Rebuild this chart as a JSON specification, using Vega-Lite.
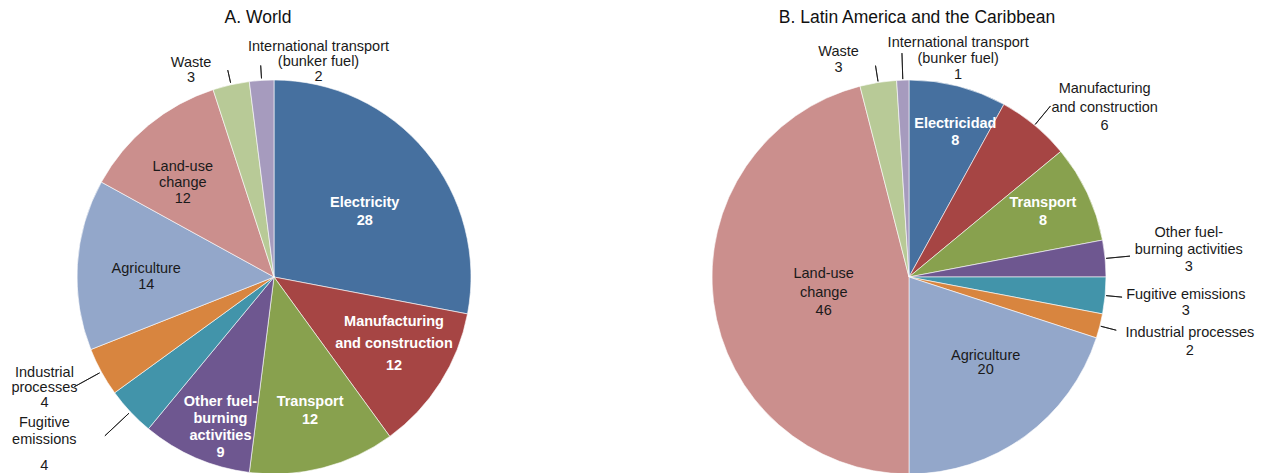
{
  "$schema": "https://vega.github.io/schema/vega-lite/v6.json",
  "padding": 0,
  "spacing": 7,
  "config": {
    "view": {"stroke": null},
    "text": {"font": "Liberation Sans", "fontSize": 14.5, "baseline": "middle", "align": "center", "lineBreak": "\n", "color": "#1a1a1a"},
    "title": {"font": "Liberation Sans", "fontSize": 17.5, "fontWeight": "normal", "color": "#111111", "anchor": "middle", "frame": "group"}
  },
  "datasets": {
    "world": [
      {"idx": 1, "cat": "Electricity", "value": 28, "label": "Electricity\n28"},
      {"idx": 2, "cat": "Manufacturing", "value": 12, "label": "Manufacturing\nand construction\n12"},
      {"idx": 3, "cat": "Transport", "value": 12, "label": "Transport\n12"},
      {"idx": 4, "cat": "Other", "value": 9, "label": "Other fuel-\nburning\nactivities\n9"},
      {"idx": 5, "cat": "Fugitive", "value": 4, "label": "Fugitive\nemissions"},
      {"idx": 6, "cat": "Industrial", "value": 4, "label": "Industrial\nprocesses\n4"},
      {"idx": 7, "cat": "Agriculture", "value": 14, "label": "Agriculture\n14"},
      {"idx": 8, "cat": "LandUse", "value": 12, "label": "Land-use\nchange\n12"},
      {"idx": 9, "cat": "Waste", "value": 3, "label": "Waste\n3"},
      {"idx": 10, "cat": "International", "value": 2, "label": "International transport\n(bunker fuel)\n2"}
    ],
    "lac": [
      {"idx": 1, "cat": "Electricity", "value": 8, "label": "Electricidad\n8"},
      {"idx": 2, "cat": "Manufacturing", "value": 6, "label": "Manufacturing\nand construction\n6"},
      {"idx": 3, "cat": "Transport", "value": 8, "label": "Transport\n8"},
      {"idx": 4, "cat": "Other", "value": 3, "label": "Other fuel-\nburning activities\n3"},
      {"idx": 5, "cat": "Fugitive", "value": 3, "label": "Fugitive emissions\n3"},
      {"idx": 6, "cat": "Industrial", "value": 2, "label": "Industrial processes\n2"},
      {"idx": 7, "cat": "Agriculture", "value": 20, "label": "Agriculture\n20"},
      {"idx": 8, "cat": "LandUse", "value": 46, "label": "Land-use\nchange\n46"},
      {"idx": 9, "cat": "Waste", "value": 3, "label": "Waste\n3"},
      {"idx": 10, "cat": "International", "value": 1, "label": "International transport\n(bunker fuel)\n1"}
    ]
  },
  "hconcat": [
    {
      "title": {"text": "A. World", "dx": -16, "offset": -26},
      "width": 548,
      "height": 554,
      "data": {"name": "world"},
      "encoding": {
        "theta": {"field": "value", "type": "quantitative", "stack": true},
        "order": {"field": "idx", "type": "quantitative"}
      },
      "layer": [
        {"mark": {"type": "arc", "radius": 197, "stroke": "#ffffff", "strokeWidth": 0.6},
         "encoding": {"color": {"field": "cat", "type": "nominal", "legend": null,
           "scale": {"domain": ["Electricity", "Manufacturing", "Transport", "Other", "Fugitive", "Industrial", "Agriculture", "LandUse", "Waste", "International"],
                     "range": ["#46709F", "#A64544", "#88A14E", "#6E5790", "#4294AA", "#D8853F", "#93A7CA", "#CB8F8D", "#B8CA97", "#A69BBE"]}}}},
        {"mark": {"type": "arc", "radius": 232, "radius2": 199, "padAngle": 1, "fillOpacity": 0, "stroke": "#111111", "strokeWidth": 0.8},
         "encoding": {"detail": {"field": "cat"}, "strokeOpacity": {"condition": {"test": "datum.cat === 'Fugitive'", "value": 1}, "value": 0}}},
        {"mark": {"type": "arc", "radius": 228, "radius2": 199, "padAngle": 1, "fillOpacity": 0, "stroke": "#111111", "strokeWidth": 0.8},
         "encoding": {"detail": {"field": "cat"}, "strokeOpacity": {"condition": {"test": "datum.cat === 'Industrial'", "value": 1}, "value": 0}}},
        {"mark": {"type": "arc", "radius": 212, "radius2": 199, "padAngle": 1, "fillOpacity": 0, "stroke": "#111111", "strokeWidth": 0.8},
         "encoding": {"detail": {"field": "cat"}, "strokeOpacity": {"condition": {"test": "datum.cat === 'Waste' || datum.cat === 'International'", "value": 1}, "value": 0}}},
        {"mark": {"type": "text", "clip": true, "radius": 110, "dx": 6, "dy": -4, "lineHeight": 18, "fontWeight": "bold", "color": "#ffffff"},
         "encoding": {"detail": {"field": "cat"}, "text": {"condition": {"test": "datum.cat === 'Electricity'", "field": "label"}, "value": ""}}},
        {"mark": {"type": "text", "clip": true, "radius": 135, "dx": 6, "dy": -27, "lineHeight": 22, "fontWeight": "bold", "color": "#ffffff"},
         "encoding": {"detail": {"field": "cat"}, "text": {"condition": {"test": "datum.cat === 'Manufacturing'", "field": "label"}, "value": ""}}},
        {"mark": {"type": "text", "clip": true, "radius": 137, "dx": 2, "dy": -8, "lineHeight": 18, "fontWeight": "bold", "color": "#ffffff"},
         "encoding": {"detail": {"field": "cat"}, "text": {"condition": {"test": "datum.cat === 'Transport'", "field": "label"}, "value": ""}}},
        {"mark": {"type": "text", "clip": true, "radius": 160, "dx": 10, "dy": -21.5, "lineHeight": 17, "fontWeight": "bold", "color": "#ffffff"},
         "encoding": {"detail": {"field": "cat"}, "text": {"condition": {"test": "datum.cat === 'Other'", "field": "label"}, "value": ""}}},
        {"mark": {"type": "text", "clip": true, "radius": 230, "dx": -62, "dy": -11.5, "lineHeight": 17},
         "encoding": {"detail": {"field": "cat"}, "text": {"condition": {"test": "datum.cat === 'Fugitive'", "field": "label"}, "value": ""}}},
        {"mark": {"type": "text", "clip": true, "radius": 230, "dx": -62, "dy": 32},
         "encoding": {"detail": {"field": "cat"}, "text": {"condition": {"test": "datum.cat === 'Fugitive'", "field": "value", "type": "quantitative"}, "value": ""}}},
        {"mark": {"type": "text", "clip": true, "radius": 230, "dx": -28, "dy": -15, "lineHeight": 15},
         "encoding": {"detail": {"field": "cat"}, "text": {"condition": {"test": "datum.cat === 'Industrial'", "field": "label"}, "value": ""}}},
        {"mark": {"type": "text", "clip": true, "radius": 128, "dx": 0, "dy": 0, "lineHeight": 16},
         "encoding": {"detail": {"field": "cat"}, "text": {"condition": {"test": "datum.cat === 'Agriculture'", "field": "label"}, "value": ""}}},
        {"mark": {"type": "text", "clip": true, "radius": 140, "dx": -2, "dy": -2, "lineHeight": 16},
         "encoding": {"detail": {"field": "cat"}, "text": {"condition": {"test": "datum.cat === 'LandUse'", "field": "label"}, "value": ""}}},
        {"mark": {"type": "text", "clip": true, "radius": 215, "dx": -36, "dy": -4.5, "lineHeight": 15},
         "encoding": {"detail": {"field": "cat"}, "text": {"condition": {"test": "datum.cat === 'Waste'", "field": "label"}, "value": ""}}},
        {"mark": {"type": "text", "clip": true, "radius": 215, "dx": 58, "dy": -15, "lineHeight": 15},
         "encoding": {"detail": {"field": "cat"}, "text": {"condition": {"test": "datum.cat === 'International'", "field": "label"}, "value": ""}}}
      ]
    },
    {
      "title": {"text": "B. Latin America and the Caribbean", "dx": 8, "offset": -26},
      "width": 708,
      "height": 554,
      "data": {"name": "lac"},
      "encoding": {
        "theta": {"field": "value", "type": "quantitative", "stack": true},
        "order": {"field": "idx", "type": "quantitative"}
      },
      "layer": [
        {"mark": {"type": "arc", "radius": 197, "stroke": "#ffffff", "strokeWidth": 0.6},
         "encoding": {"color": {"field": "cat", "type": "nominal", "legend": null,
           "scale": {"domain": ["Electricity", "Manufacturing", "Transport", "Other", "Fugitive", "Industrial", "Agriculture", "LandUse", "Waste", "International"],
                     "range": ["#46709F", "#A64544", "#88A14E", "#6E5790", "#4294AA", "#D8853F", "#93A7CA", "#CB8F8D", "#B8CA97", "#A69BBE"]}}}},
        {"mark": {"type": "arc", "radius": 214, "radius2": 198, "padAngle": 1, "fillOpacity": 0, "stroke": "#111111", "strokeWidth": 0.8},
         "encoding": {"detail": {"field": "cat"}, "strokeOpacity": {"condition": {"test": "datum.cat === 'Waste' || datum.cat === 'Fugitive' || datum.cat === 'Industrial'", "value": 1}, "value": 0}}},
        {"mark": {"type": "arc", "radius": 224, "radius2": 198, "padAngle": 1, "fillOpacity": 0, "stroke": "#111111", "strokeWidth": 0.8},
         "encoding": {"detail": {"field": "cat"}, "strokeOpacity": {"condition": {"test": "datum.cat === 'International'", "value": 1}, "value": 0}}},
        {"mark": {"type": "arc", "radius": 222, "radius2": 198, "padAngle": 1, "fillOpacity": 0, "stroke": "#111111", "strokeWidth": 0.8},
         "encoding": {"detail": {"field": "cat"}, "strokeOpacity": {"condition": {"test": "datum.cat === 'Manufacturing' || datum.cat === 'Other'", "value": 1}, "value": 0}}},
        {"mark": {"type": "text", "clip": true, "radius": 150, "dx": 9, "dy": -7.5, "lineHeight": 17, "fontWeight": "bold", "color": "#ffffff"},
         "encoding": {"detail": {"field": "cat"}, "text": {"condition": {"test": "datum.cat === 'Electricity'", "field": "label"}, "value": ""}}},
        {"mark": {"type": "text", "clip": true, "radius": 230, "dx": 49, "dy": -10.5, "lineHeight": 18.5},
         "encoding": {"detail": {"field": "cat"}, "text": {"condition": {"test": "datum.cat === 'Manufacturing'", "field": "label"}, "value": ""}}},
        {"mark": {"type": "text", "clip": true, "radius": 148, "dx": 0, "dy": -11, "lineHeight": 18, "fontWeight": "bold", "color": "#ffffff"},
         "encoding": {"detail": {"field": "cat"}, "text": {"condition": {"test": "datum.cat === 'Transport'", "field": "label"}, "value": ""}}},
        {"mark": {"type": "text", "clip": true, "radius": 280, "dx": 1, "dy": -18, "lineHeight": 17},
         "encoding": {"detail": {"field": "cat"}, "text": {"condition": {"test": "datum.cat === 'Other'", "field": "label"}, "value": ""}}},
        {"mark": {"type": "text", "clip": true, "radius": 278, "dx": 0, "dy": -8, "lineHeight": 16},
         "encoding": {"detail": {"field": "cat"}, "text": {"condition": {"test": "datum.cat === 'Fugitive'", "field": "label"}, "value": ""}}},
        {"mark": {"type": "text", "clip": true, "radius": 290, "dx": 0, "dy": -16, "lineHeight": 18},
         "encoding": {"detail": {"field": "cat"}, "text": {"condition": {"test": "datum.cat === 'Industrial'", "field": "label"}, "value": ""}}},
        {"mark": {"type": "text", "clip": true, "radius": 110, "dx": 12, "dy": -10, "lineHeight": 14},
         "encoding": {"detail": {"field": "cat"}, "text": {"condition": {"test": "datum.cat === 'Agriculture'", "field": "label"}, "value": ""}}},
        {"mark": {"type": "text", "clip": true, "radius": 86, "dx": 0, "dy": -13.5, "lineHeight": 18.5},
         "encoding": {"detail": {"field": "cat"}, "text": {"condition": {"test": "datum.cat === 'LandUse'", "field": "label"}, "value": ""}}},
        {"mark": {"type": "text", "clip": true, "radius": 220, "dx": -36, "dy": -8, "lineHeight": 16},
         "encoding": {"detail": {"field": "cat"}, "text": {"condition": {"test": "datum.cat === 'Waste'", "field": "label"}, "value": ""}}},
        {"mark": {"type": "text", "clip": true, "radius": 218, "dx": 56, "dy": -16, "lineHeight": 16},
         "encoding": {"detail": {"field": "cat"}, "text": {"condition": {"test": "datum.cat === 'International'", "field": "label"}, "value": ""}}}
      ]
    }
  ]
}
